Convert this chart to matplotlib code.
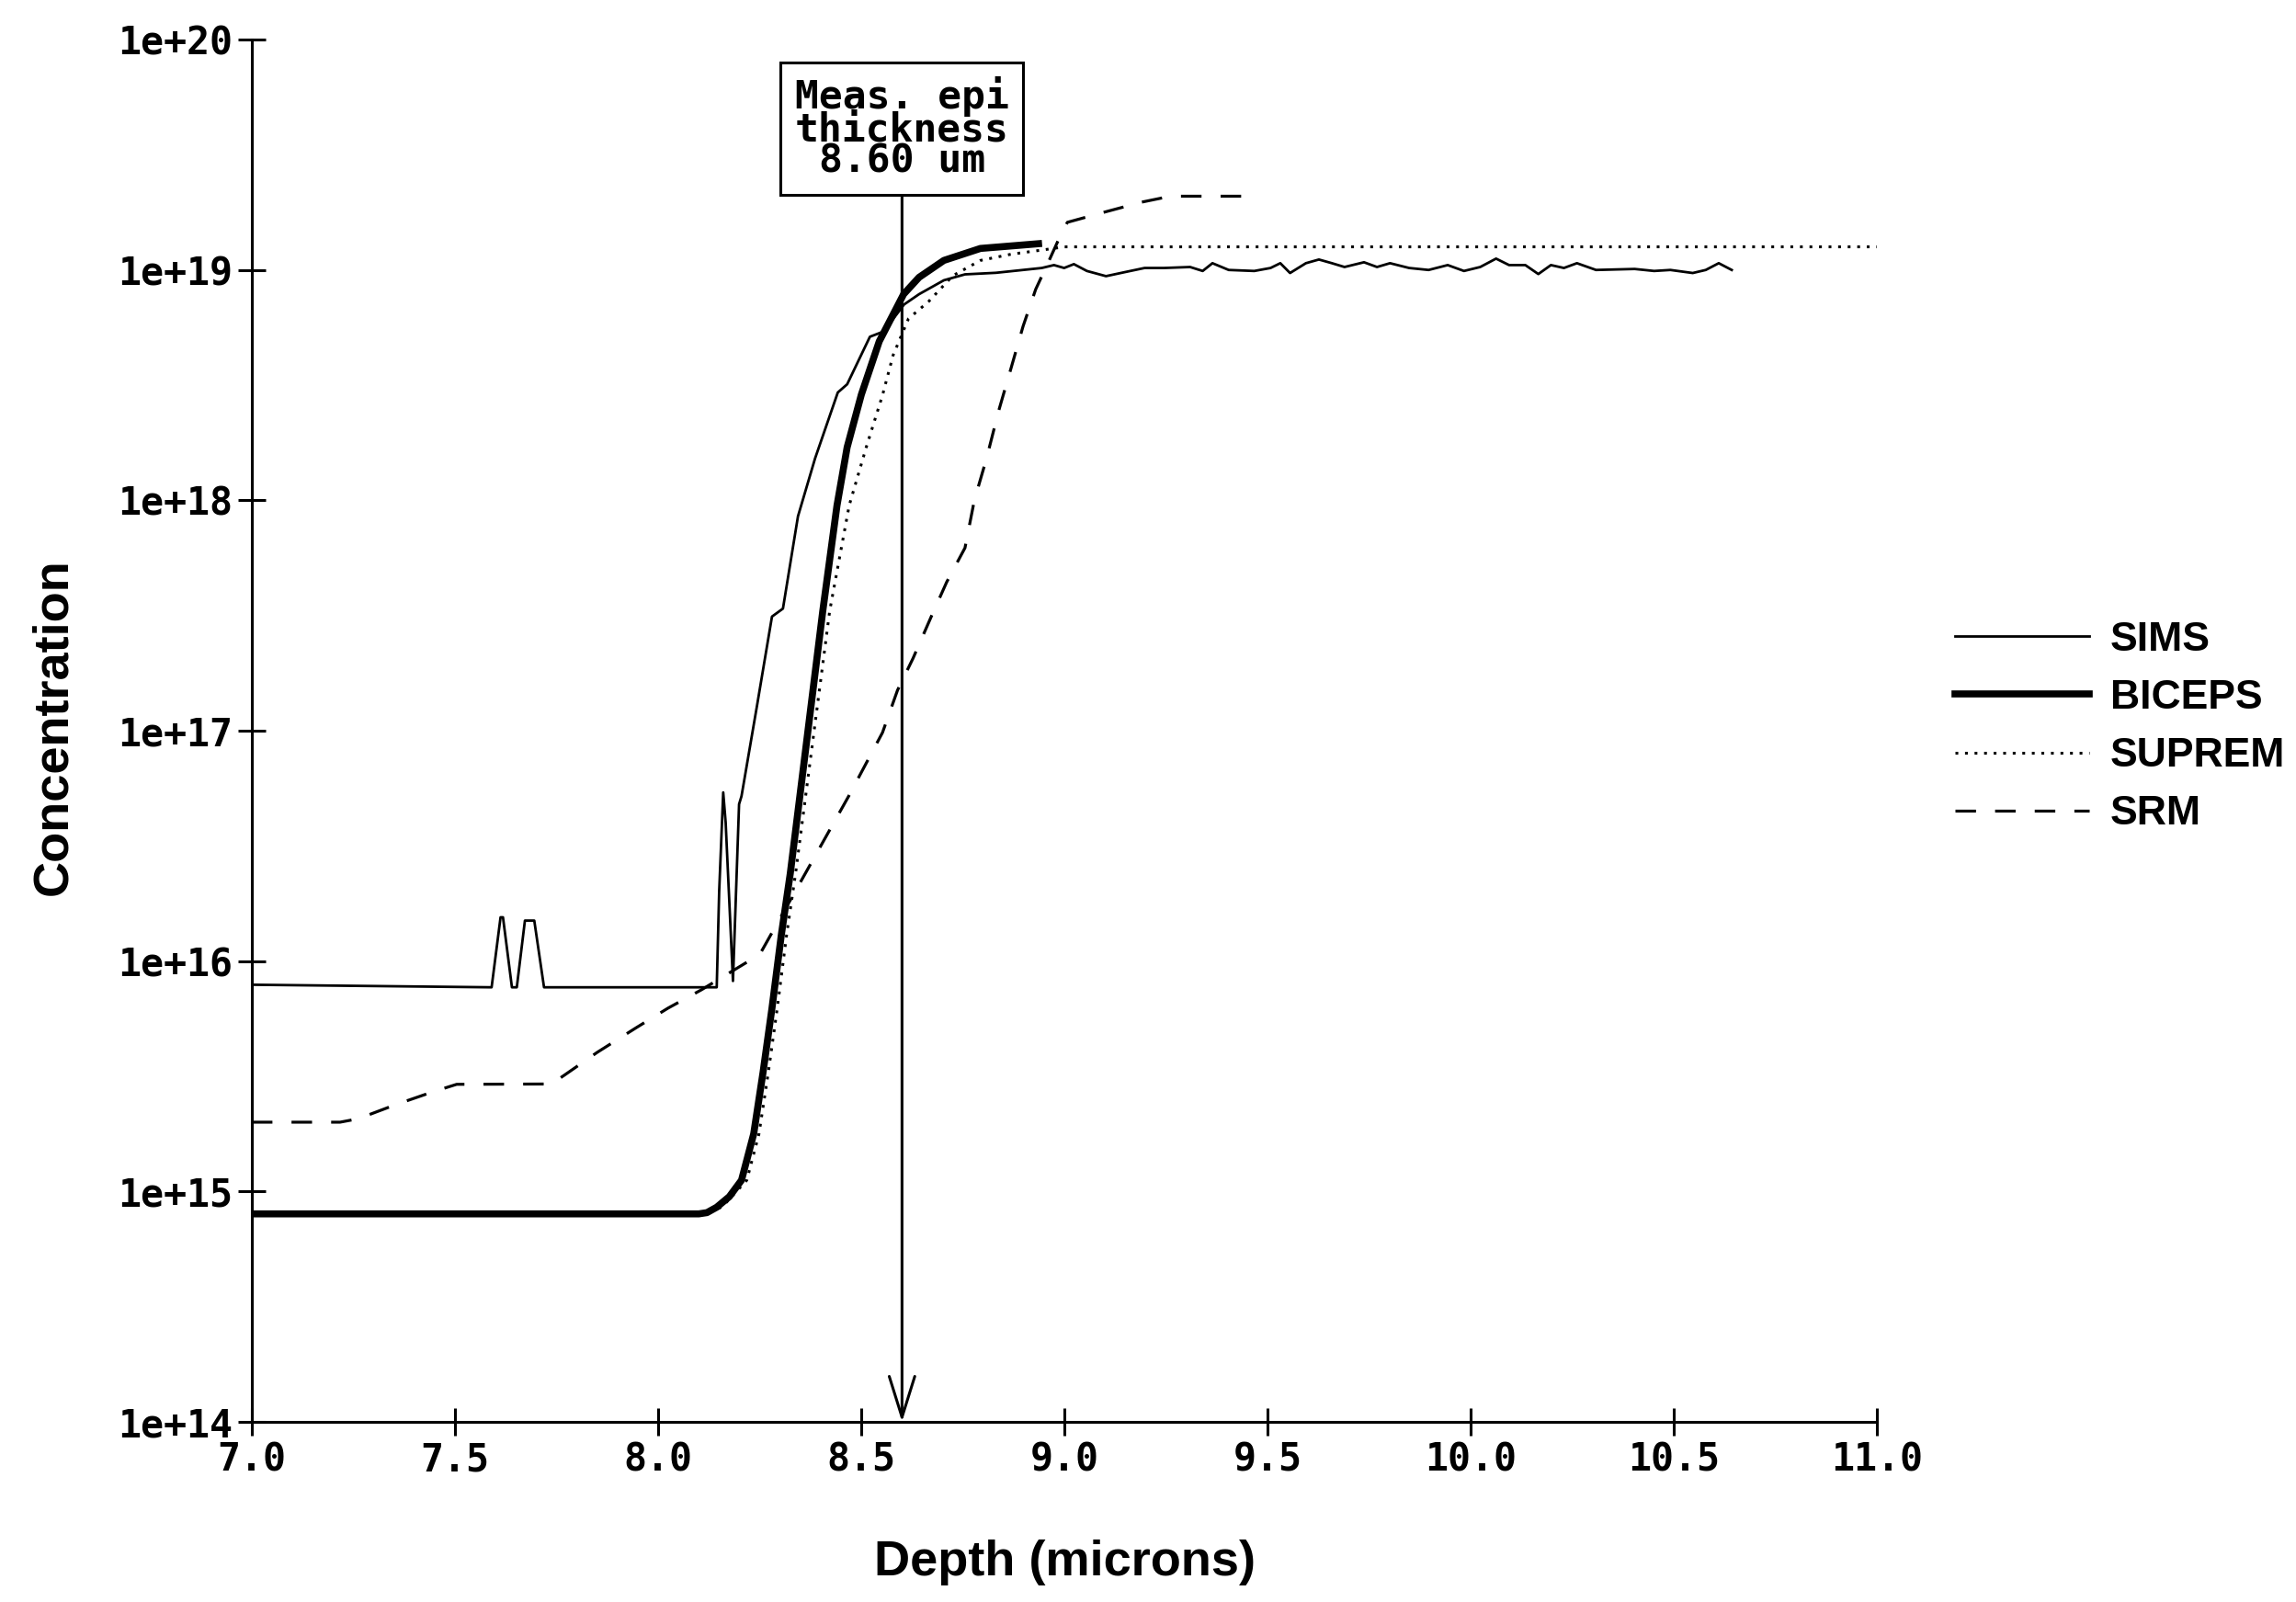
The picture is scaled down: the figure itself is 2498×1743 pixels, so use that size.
import matplotlib
matplotlib.use("Agg")
import matplotlib.pyplot as plt
import numpy as np

# ---- data (depth in microns, concentration in cm^-3) ----
sims_depth = [7.00, 7.59, 7.612, 7.618, 7.640, 7.652, 7.672, 7.695, 7.719, 8.144,
              8.150, 8.160, 8.166, 8.184, 8.199, 8.205, 8.243, 8.280, 8.307, 8.344,
              8.386, 8.442, 8.465, 8.521, 8.555, 8.605, 8.642, 8.703, 8.755, 8.831,
              8.944, 8.974, 8.999, 9.023, 9.055, 9.102, 9.150, 9.197, 9.245, 9.309,
              9.340, 9.364, 9.404, 9.467, 9.507, 9.531, 9.555, 9.594, 9.626, 9.658,
              9.689, 9.737, 9.769, 9.801, 9.848, 9.896, 9.943, 9.983, 10.023, 10.062,
              10.094, 10.134, 10.166, 10.197, 10.229, 10.261, 10.308, 10.403, 10.451, 10.491,
              10.546, 10.578, 10.610, 10.642]
sims_conc = [7.9e15, 7.7e15, 1.55e16, 1.55e16, 7.7e15, 7.7e15, 1.5e16, 1.5e16, 7.7e15, 7.7e15,
             2.0e16, 5.4e16, 4.0e16, 8.2e15, 4.8e16, 5.2e16, 1.28e17, 3.13e17, 3.39e17, 8.53e17,
             1.52e18, 2.94e18, 3.19e18, 5.13e18, 5.41e18, 7.08e18, 7.85e18, 9.02e18, 9.57e18, 9.72e18,
             1.02e19, 1.05e19, 1.02e19, 1.06e19, 9.9e18, 9.4e18, 9.8e18, 1.02e19, 1.02e19, 1.03e19,
             9.9e18, 1.07e19, 1.0e19, 9.9e18, 1.02e19, 1.07e19, 9.7e18, 1.07e19, 1.11e19, 1.07e19,
             1.03e19, 1.08e19, 1.03e19, 1.07e19, 1.02e19, 1.0e19, 1.05e19, 9.9e18, 1.03e19, 1.12e19,
             1.05e19, 1.05e19, 9.6e18, 1.05e19, 1.02e19, 1.07e19, 1.0e19, 1.01e19, 9.9e18, 1.0e19,
             9.7e18, 1.0e19, 1.07e19, 1.0e19]

biceps_depth = [7.00, 8.10, 8.12, 8.144, 8.175, 8.205, 8.235, 8.258, 8.280, 8.303,
                8.325, 8.365, 8.405, 8.440, 8.465, 8.500, 8.544, 8.604, 8.642, 8.703,
                8.793, 8.936]
biceps_conc = [8.0e14, 8.0e14, 8.1e14, 8.55e14, 9.5e14, 1.12e15, 1.78e15, 3.29e15, 6.25e15, 1.30e16,
               2.40e16, 8.9e16, 3.31e17, 9.5e17, 1.70e18, 2.88e18, 4.90e18, 7.85e18, 9.29e18, 1.10e19,
               1.24e19, 1.30e19]

suprem_depth = [7.00, 8.12, 8.158, 8.218, 8.248, 8.271, 8.293, 8.316, 8.338, 8.380,
                8.422, 8.470, 8.512, 8.552, 8.578, 8.616, 8.665, 8.725, 8.793, 8.868,
                8.944, 9.00, 11.00]
suprem_conc = [8.0e14, 8.0e14, 8.6e14, 1.12e15, 1.78e15, 3.29e15, 6.25e15, 1.30e16, 2.40e16, 8.9e16,
               3.31e17, 9.5e17, 1.70e18, 2.86e18, 4.26e18, 6.15e18, 7.28e18, 9.44e18, 1.10e19, 1.17e19,
               1.22e19, 1.26e19, 1.26e19]

srm_depth = [7.00, 7.217, 7.262, 7.353, 7.443, 7.504, 7.737, 7.768, 7.850, 7.945,
             8.024, 8.107, 8.250, 8.367, 8.469, 8.552, 8.589, 8.627, 8.672, 8.710,
             8.755, 8.778, 8.808, 8.838, 8.868, 8.898, 8.929, 8.959, 8.989, 9.007,
             9.102, 9.190, 9.261, 9.356, 9.46]
srm_conc = [2.0e15, 2.0e15, 2.07e15, 2.38e15, 2.70e15, 2.92e15, 2.93e15, 3.19e15, 4.02e15, 5.13e15,
            6.25e15, 7.52e15, 1.07e16, 2.49e16, 5.21e16, 9.82e16, 1.50e17, 2.06e17, 3.13e17, 4.42e17,
            6.22e17, 1.0e18, 1.52e18, 2.45e18, 3.73e18, 5.70e18, 8.24e18, 1.07e19, 1.40e19, 1.61e19,
            1.79e19, 1.97e19, 2.09e19, 2.09e19, 2.09e19]

epi_thickness = 8.60
x_ticks = [7.0, 7.5, 8.0, 8.5, 9.0, 9.5, 10.0, 10.5, 11.0]
y_ticks = [1e14, 1e15, 1e16, 1e17, 1e18, 1e19, 1e20]
y_tick_labels = ["1e+14", "1e+15", "1e+16", "1e+17", "1e+18", "1e+19", "1e+20"]

# ---- fonts ----
label_font = "Liberation Sans"
tick_font = "DejaVu Sans Mono"

fig = plt.figure(figsize=(24.98, 17.43), dpi=100)
ax = fig.add_axes([0.1097, 0.1124, 0.7079, 0.8629])

ax.plot(sims_depth, sims_conc, color="black", lw=2.0, label="SIMS")
ax.plot(biceps_depth, biceps_conc, color="black", lw=5.5, label="BICEPS")
ax.plot(suprem_depth, suprem_conc, color="black", lw=2.2, linestyle=(0, (1, 2.4)), label="SUPREM")
ax.plot(srm_depth, srm_conc, color="black", lw=2.3, linestyle=(0, (7, 6.5)), label="SRM")

ax.set_yscale("log")
ax.set_xlim(7.0, 11.0)
ax.set_ylim(1e14, 1e20)

ax.set_xticks(x_ticks)
ax.set_xticklabels(["%.1f" % t for t in x_ticks])
ax.set_yticks(y_ticks)
ax.set_yticklabels(y_tick_labels)
ax.minorticks_off()

for s in ["top", "right"]:
    ax.spines[s].set_visible(False)
for s in ["left", "bottom"]:
    ax.spines[s].set_linewidth(2.2)

ax.tick_params(direction="inout", length=22, width=2.2, pad=4)
for lab in ax.get_xticklabels() + ax.get_yticklabels():
    lab.set_fontfamily(tick_font)
    lab.set_fontweight("bold")
    lab.set_fontsize(30)

ax.set_xlabel("Depth (microns)", fontsize=39, fontweight="bold", family=label_font)
ax.set_ylabel("Concentration", fontsize=39, fontweight="bold", family=label_font)
ax.xaxis.set_label_coords(0.5, -0.085)
ax.yaxis.set_label_coords(-0.108, 0.503)

# measured epi thickness marker
ax.annotate("Meas. epi\nthickness\n%.2f um" % epi_thickness,
            xy=(epi_thickness, 1e14), xytext=(epi_thickness, 4.1e19),
            ha="center", va="center", fontsize=31, family=tick_font, fontweight="bold",
            linespacing=0.78,
            bbox=dict(boxstyle="square,pad=0.36", fc="white", ec="black", lw=2.2),
            arrowprops=dict(arrowstyle="->,head_length=0.8,head_width=0.25", lw=2.2,
                            color="black", mutation_scale=40, shrinkA=0, shrinkB=0))

leg = ax.legend(loc="center left", bbox_to_anchor=(0.8514, 0.5461), bbox_transform=fig.transFigure,
                frameon=False, borderpad=0, borderaxespad=0, handlelength=3.3,
                handletextpad=0.5, labelspacing=0.5,
                prop=dict(family=label_font, weight="bold", size=32))

fig.savefig("out.png", dpi=100)
